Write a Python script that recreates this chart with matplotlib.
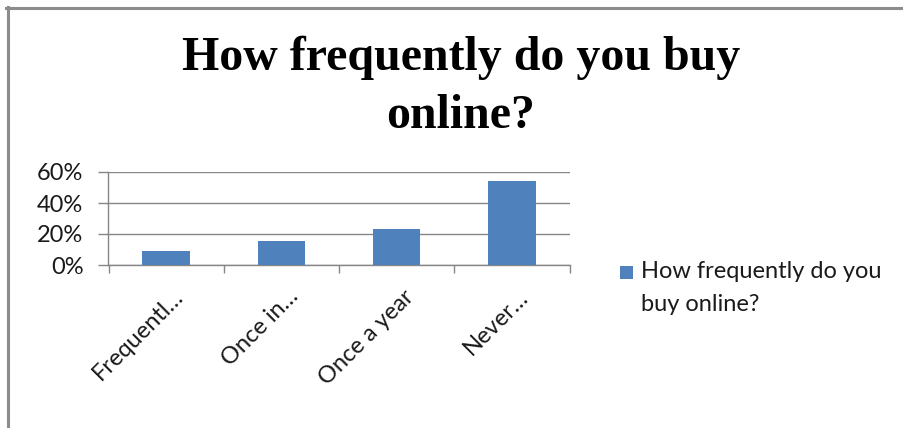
import matplotlib

matplotlib.use("Agg")

import matplotlib.pyplot as plt
from matplotlib.lines import Line2D
from matplotlib.patches import Rectangle
from matplotlib.ticker import PercentFormatter
import matplotlib.transforms as mtransforms
import numpy as np


CATEGORIES = ["Frequentl…", "Once in…", "Once a year", "Never…"]
SHARES = [0.09, 0.155, 0.23, 0.545]
Y_TICKS = [0.0, 0.2, 0.4, 0.6]
SERIES_NAME = "How frequently do you buy online?"
TITLE = "How frequently do you buy\nonline?"

BAR_COLOR = "#4F81BD"
GRID_COLOR = "#868686"
LABEL_FONT = ["Lato", "DejaVu Sans"]
TITLE_FONT = ["Liberation Serif", "DejaVu Serif"]
LABEL_SIZE = 17


fig = plt.figure(figsize=(9.04, 4.28), dpi=100)
fig.patch.set_facecolor("white")

# chart frame (only top and left edges show in the crop)
fig.add_artist(Line2D([6.5 / 904, 1.0], [1 - 7.5 / 428, 1 - 7.5 / 428],
                      transform=fig.transFigure, color="#8C8C8C", linewidth=2.2))
fig.add_artist(Line2D([7.5 / 904, 7.5 / 904], [0.0, 1 - 6.5 / 428],
                      transform=fig.transFigure, color="#8C8C8C", linewidth=2.2))

fig.text(461 / 904, 1 - 87 / 428, TITLE, ha="center", va="center", fontsize=34.5,
         fontweight="bold", family=TITLE_FONT, linespacing=1.42)

ax = fig.add_axes([108.5 / 904, 1 - 265 / 428, 461 / 904, 93 / 428])
x = np.arange(len(CATEGORIES))
ax.bar(x, SHARES, width=0.41, color=BAR_COLOR, zorder=3)

ax.set_xlim(-0.5, len(CATEGORIES) - 0.5)
ax.set_ylim(0, 0.6)
ax.set_yticks(Y_TICKS)
ax.yaxis.set_major_formatter(PercentFormatter(1.0, decimals=0))
ax.yaxis.grid(True, color=GRID_COLOR, linewidth=1.0, zorder=0)
ax.set_axisbelow(True)

ax.set_xticks(np.arange(len(CATEGORIES) + 1) - 0.5)
ax.set_xticklabels([])
ax.tick_params(axis="x", length=6, width=1, color=GRID_COLOR, direction="out")
ax.tick_params(axis="y", length=7, width=1, color=GRID_COLOR, direction="out",
               pad=11, labelsize=LABEL_SIZE)
for lbl in ax.get_yticklabels():
    lbl.set_family(LABEL_FONT)
    lbl.set_color("#1A1A1A")

for side in ("top", "right"):
    ax.spines[side].set_visible(False)
for side in ("left", "bottom"):
    ax.spines[side].set_color(GRID_COLOR)
    ax.spines[side].set_linewidth(1.0)

# rotated category labels
offset = mtransforms.ScaledTranslation(6 / 100, -21 / 100, fig.dpi_scale_trans)
for xi, name in zip(x, CATEGORIES):
    ax.text(xi, 0, name, transform=ax.get_xaxis_transform() + offset,
            rotation=45, rotation_mode="anchor", ha="right", va="top",
            fontsize=LABEL_SIZE, family=LABEL_FONT, color="#1A1A1A")

# legend drawn like the office chart: marker aligned with first line
fig.add_artist(Rectangle((620 / 904, 1 - 279 / 428), 13 / 904, 13 / 428,
                         transform=fig.transFigure, facecolor=BAR_COLOR,
                         edgecolor="none"))
fig.text(641 / 904, 1 - 261 / 428, "How frequently do you\nbuy online?",
         ha="left", va="top", fontsize=LABEL_SIZE, family=LABEL_FONT,
         color="#1A1A1A", linespacing=1.7)

fig.savefig("out.png", dpi=100, facecolor="white")
